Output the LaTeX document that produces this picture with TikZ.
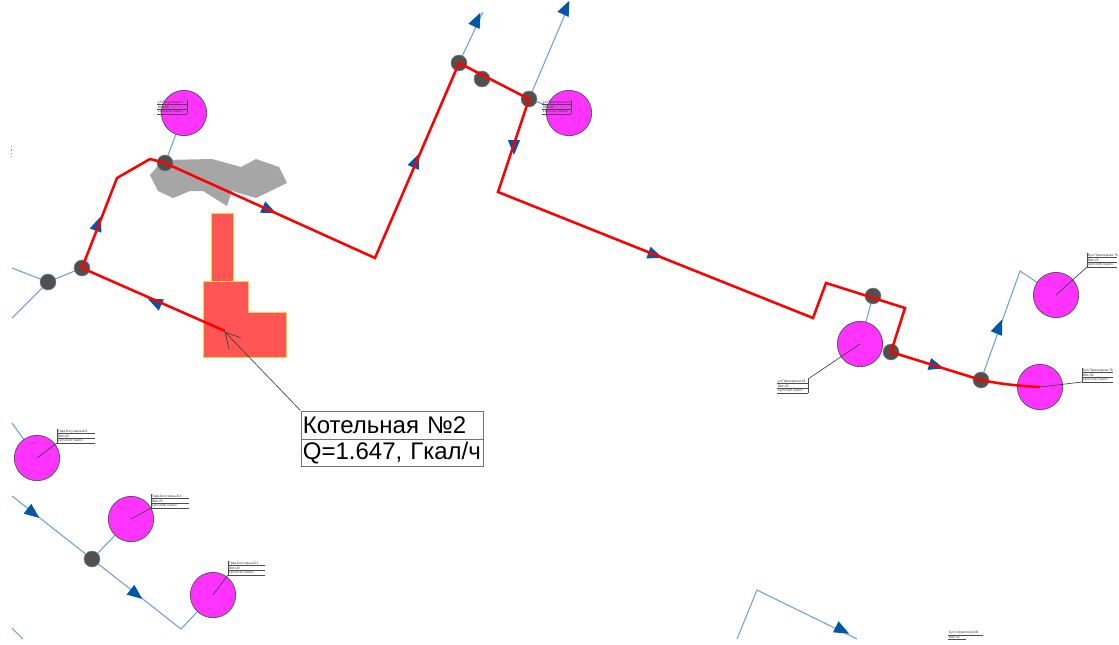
\documentclass[tikz,border=0pt]{standalone}
\usepackage{fontspec}
\setmainfont{Liberation Sans}
\usetikzlibrary{backgrounds}
\definecolor{pipeblue}{HTML}{6F9FD8}
\definecolor{arrowblue}{HTML}{0056A8}
\definecolor{pipered}{HTML}{FF0000}
\definecolor{consumer}{HTML}{FF33FF}
\definecolor{junctiongrey}{HTML}{505050}
\definecolor{boilerred}{HTML}{FF5555}
\definecolor{boileredge}{HTML}{FFD040}
\definecolor{patchgrey}{HTML}{A6A6A6}
\tikzset{
  junction/.style={circle,draw=junctiongrey!70!white,line width=.4pt,fill=junctiongrey,inner sep=0pt,minimum size=12pt},
  consumernode/.style={circle,draw=black!70,line width=.5pt,fill=consumer,inner sep=0pt,minimum size=34pt},
  bluepipe/.style={draw=pipeblue,line width=.8pt},
  redpipe/.style={draw=pipered,line width=1.9pt,line join=miter},
  leader/.style={draw=black!75,line width=.5pt},
  tagline/.style={draw=black!70,line width=.35pt},
  tagtext/.style={font=\fontsize{2.5}{3}\selectfont,inner sep=0pt,anchor=south west,text=black!80},
  boiler/.style={draw=boileredge,line width=.6pt,fill=boilerred},
  calloutcell/.style={draw=black!55,line width=.6pt,fill=white,font=\fontsize{18}{20}\selectfont,inner sep=0pt,text=black,anchor=north west,align=left,text width=137pt}
}
% head{x}{y}{angle}
\newcommand{\flowhead}[3]{\fill[arrowblue,shift={(#1,#2)},rotate=#3] (8,0) -- (-7,6.2) -- (-7,-6.2) -- cycle;}
% tag{x left}{x right}{y of first rule}{line1}{line2}{line3}
\newcommand{\tagblock}[6]{%
  \draw[tagline] (#1,#3) -- (#2,#3) (#1,#3+4.7) -- (#2,#3+4.7) (#1,#3+9.4) -- (#2,#3+9.4);
  \node[tagtext] at (#1+.7,#3-.4) {#4};
  \node[tagtext] at (#1+.7,#3+4.3) {#5};
  \node[tagtext] at (#1+.7,#3+9) {#6};}
\begin{document}
\begin{tikzpicture}[x=.75pt,y=-.75pt]
\useasboundingbox (0,0) rectangle (1119,644);

% junctions
\node[junction] (j1) at (48,282) {};
\node[junction] (j2) at (82,268) {};
\node[junction] (j3) at (165,163) {};
\node[junction] (j4) at (459,63) {};
\node[junction] (j5) at (482,79) {};
\node[junction] (j6) at (529,99) {};
\node[junction] (j7) at (873,296) {};
\node[junction] (j8) at (891,352) {};
\node[junction] (j9) at (981,380) {};
\node[junction] (j10) at (92,559) {};

% consumers
\node[consumernode] (c1) at (184,113) {};
\node[consumernode] (c2) at (569,113) {};
\node[consumernode] (c3) at (860,344) {};
\node[consumernode] (c4) at (1056,295) {};
\node[consumernode] (c5) at (1040,387) {};
\node[consumernode] (c6) at (37,458) {};
\node[consumernode] (c7) at (131,519) {};
\node[consumernode] (c8) at (213,595) {};

% free ends and bends
\coordinate (e1) at (12,268);
\coordinate (e2) at (12,318);
\coordinate (e3) at (483,12);
\coordinate (e4) at (566,12);
\coordinate (b1) at (1020,271);
\coordinate (e5) at (12,423);
\coordinate (e6) at (12,496);
\coordinate (b2) at (181,629);
\coordinate (e7) at (12,628);
\coordinate (e8) at (23,639);
\coordinate (e9) at (737,639);
\coordinate (b3) at (757,590);
\coordinate (e10) at (857,639);

\begin{scope}[on background layer]
  \fill[patchgrey] (150,175) -- (163,160) -- (212,159) -- (241,167) -- (256,159) -- (279,167) -- (287,183) -- (256,198) -- (232,191) -- (227,206) -- (203,191) -- (190,191) -- (173,198) -- (158,191) -- cycle;
  \path[bluepipe] (e1) -- (j1.center) -- (j2.center);
  \path[bluepipe] (j1.center) -- (e2);
  \path[bluepipe] (j3.center) -- (c1.center);
  \path[bluepipe] (j4.center) -- (e3);
  \path[bluepipe] (j6.center) -- (e4);
  \path[bluepipe] (j6.center) -- (c2.center);
  \path[bluepipe] (j7.center) -- (c3.center);
  \path[bluepipe] (j9.center) -- (b1) -- (c4.center);
  \path[bluepipe] (e5) -- (c6.center);
  \path[bluepipe] (e6) -- (j10.center) -- (b2) -- (c8.center);
  \path[bluepipe] (j10.center) -- (c7.center);
  \path[bluepipe] (e7) -- (e8);
  \path[bluepipe] (e9) -- (b3) -- (e10);
\end{scope}

% boiler house
\coordinate (bo) at (225,331);
\draw[boiler] (211,281) -- (211,213) -- (233,213) -- (233,281);
\draw[boiler] (203,281) -- (248,281) -- (248,312) -- (286,312) -- (286,357) -- (203,357) -- cycle;

% flow heads on blue pipes
\flowhead{477}{20}{65}
\flowhead{566}{8}{65}
\flowhead{999}{327}{68}
\flowhead{33}{513}{-38}
\flowhead{136}{594}{-38}
\flowhead{842}{630}{-27}

% flow heads under the red pipe
\flowhead{98}{224}{70}
\flowhead{155}{302}{155}
\flowhead{269}{210}{-25}
\flowhead{416}{161}{67}
\flowhead{514}{147}{-90}
\flowhead{655}{255}{-20}
\flowhead{936}{366}{-17}

% red main
\path[redpipe] (bo) -- (j2.center) -- (117,178) -- (150,159) -- (j3.center) -- (375,258) -- (j4.center) -- (j6.center) -- (498,192) -- (813,318) -- (826,283) -- (905,308) -- (j8.center) -- (j9.center) .. controls (1000,384) and (1020,386) .. (c5.center);

% leaders and tags
\draw[leader] (c6.center) -- (57,443);
\draw[tagline] (57,429) -- (57,443);
\tagblock{57}{95}{433.5}{Трав.Богучанный 6}{Dbt=20}{Lp=0.030 Гкал/ч}
\draw[leader] (c7.center) -- (151,508);
\draw[tagline] (151,494) -- (151,508);
\tagblock{151}{189}{498.5}{Трав.Богучанный 4}{Dbt=25}{Lp=0.006 Гкал/ч}
\draw[leader] (c8.center) -- (228,575);
\draw[tagline] (228,561) -- (228,575);
\tagblock{228}{265}{565.5}{Трав.Богучанный 2}{Dbt=20}{Lp=0.015 Гкал/ч}
\draw[tagline] (187,100) -- (187,114);
\tagblock{157}{187}{104.5}{ул.Богучанный 1}{Dbt=20}{Lp=0.014 Гкал/ч}
\draw[tagline] (571,100) -- (571,114);
\tagblock{542}{571}{104.5}{ул.Приозерная 84}{Dbt=20}{Lp=0.012 Гкал/ч}
\draw[leader] (c3.center) -- (808,379);
\draw[tagline] (808,379) -- (808,393);
\tagblock{777}{808}{383.6}{ул.Приозерная 81}{Dbt=25}{Lp=0.040 Гкал/ч}
\draw[leader] (c4.center) -- (1087,267);
\draw[tagline] (1087,253) -- (1087,267);
\tagblock{1087}{1117}{257.6}{Бул.Приозерная 76}{Dbt=25}{Lp=0.008 Гкал/ч}
\draw[leader] (c5.center) -- (1082,382);
\draw[tagline] (1082,368) -- (1082,382);
\tagblock{1082}{1113}{372.6}{Бул.Приозерная 78}{Dbt=32}{Lp=0.016 Гкал/ч}
\node[tagtext] (t9a) at (948.7,634.6) {Бул.Строителей 46};
\node[tagtext] (t9b) at (948.7,639) {Dbt=32};
\draw[tagline] (948,635) -- (983,635) (948,639) -- (966,639);

% stray dots
\draw[black!40,line width=.5pt,dash pattern=on 1pt off 1.5pt] (11,146) -- (11,157);

% callout
\node[calloutcell,minimum height=21pt] (cal1) at (300.5,410.5) {\hspace*{1.5pt}Котельная №2};
\node[calloutcell,minimum height=20.5pt] (cal2) at (300.5,438.5) {\hspace*{1.5pt}Q=1.647, Гкал/ч};
\coordinate (tip) at (225,332);
\draw[leader] (cal1.north west) -- (tip);
\draw[leader] (229,349) -- (tip) -- (241,338);
\end{tikzpicture}
\end{document}
